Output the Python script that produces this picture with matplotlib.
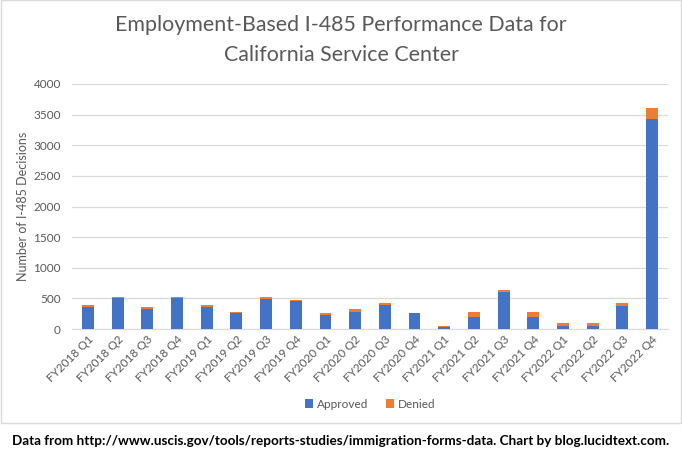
import matplotlib.pyplot as plt
from matplotlib.patches import Rectangle

quarters = ["FY2018 Q1", "FY2018 Q2", "FY2018 Q3", "FY2018 Q4",
            "FY2019 Q1", "FY2019 Q2", "FY2019 Q3", "FY2019 Q4",
            "FY2020 Q1", "FY2020 Q2", "FY2020 Q3", "FY2020 Q4",
            "FY2021 Q1", "FY2021 Q2", "FY2021 Q3", "FY2021 Q4",
            "FY2022 Q1", "FY2022 Q2", "FY2022 Q3", "FY2022 Q4"]
approved = [365, 500, 320, 500, 365, 255, 485, 460, 235, 285,
            400, 255, 30, 200, 605, 200, 55, 55, 370, 3430]
denied = [25, 20, 35, 20, 20, 20, 35, 15, 20, 35,
          20, 5, 20, 85, 30, 70, 35, 50, 50, 185]

blue = "#4472C4"
orange = "#ED7D31"
gray = "#595959"
plt.rcParams["font.family"] = ["Lato", "DejaVu Sans"]

W, H = 682, 461
fig = plt.figure(figsize=(W / 100, H / 100), dpi=100)
ax = fig.add_axes([72 / W, 1 - 329 / H, (668 - 72) / W, (329 - 84) / H])

x = range(len(quarters))
ax.bar(x, approved, width=0.4, color=blue, label="Approved", zorder=3)
ax.bar(x, denied, width=0.4, bottom=approved, color=orange, label="Denied", zorder=3)

ax.set_xlim(-0.54, len(quarters) - 0.46)
ax.set_ylim(0, 4000)
ax.set_yticks(range(0, 4001, 500))
ax.grid(axis="y", color="#D9D9D9", linewidth=0.9, zorder=0)
for s in ["top", "right", "left"]:
    ax.spines[s].set_visible(False)
ax.spines["bottom"].set_color("#D9D9D9")
ax.tick_params(axis="both", length=0, colors=gray, labelsize=8.5)
ax.tick_params(axis="y", pad=8)
ax.set_xticks(list(x))
ax.set_xticklabels(quarters, rotation=45, ha="right", rotation_mode="anchor")
ax.set_ylabel("Number of I-485 Decisions", color=gray, fontsize=9, labelpad=3)

fig.text(0.5, 1 - 25 / H, "Employment-Based I-485 Performance Data for",
         ha="center", va="center", fontsize=15.4, color=gray)
fig.text(0.5, 1 - 55 / H, "California Service Center",
         ha="center", va="center", fontsize=15.4, color=gray)

fig.legend(loc="center", bbox_to_anchor=(370 / W, 1 - 404 / H), ncol=2,
           frameon=False, fontsize=8.5, handlelength=0.7, handleheight=0.7,
           columnspacing=1.5, handletextpad=0.3, labelcolor=gray)

fig.text(12 / W, 1 - 441 / H,
         "Data from http://www.uscis.gov/tools/reports-studies/immigration-forms-data. Chart by blog.lucidtext.com.",
         ha="left", va="center", fontsize=9.7, fontweight="bold", color="black")

fig.patches.append(Rectangle((0.5 / W, 1 - 423 / H), 680 / W, 422.5 / H,
                             transform=fig.transFigure, fill=False,
                             edgecolor="#D9D9D9", linewidth=1))

fig.savefig("out.png", dpi=100)
